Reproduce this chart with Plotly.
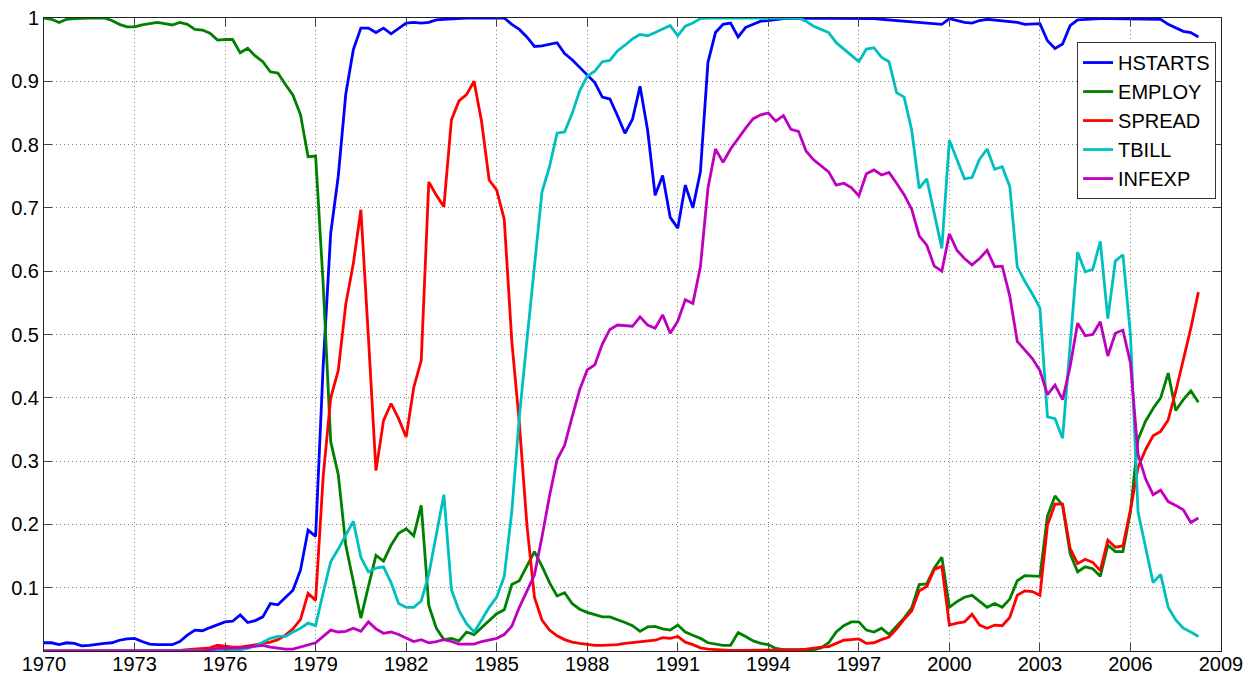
import plotly.graph_objects as go

# quarterly observations, 1970Q1 .. 2008Q2
start_year = 1970
n_quarters = 154
dates = [start_year + i / 4 for i in range(n_quarters)]

hstarts = [
    .013, .013, .010, .013,  .012, .008, .009, .011,  .012, .013, .017, .019,
    .020, .015, .011, .010,  .010, .010, .015, .025,  .033, .032, .037, .042,
    .046, .047, .057, .045,  .048, .054, .075, .073,  .085, .096, .128, .191,
    .181, .450, .660, .750,  .880, .950, .984, .984,  .977, .984, .975, .984,
    .992, .993, .992, .993,  .997, .998, .999, 1.00,  1.00, 1.00, 1.00, 1.00,
    .999, 1.00, .990, .982,  .970, .955, .956, .958,  .961, .944, .934, .922,
    .910, .898, .875, .872,  .846, .818, .840, .892,  .823, .720, .751, .685,
    .668, .736, .700, .757,  .930, .977, .990, .992,  .970, .985, .990, .995,
    .996, .998, .999, 1.00,  1.00, 1.00, 1.00, 1.00,  1.00, 1.00, 1.00, 1.00,
    1.00, 1.00, .999, .998,  .997, .996, .995, .994,  .993, .992, .990, .990,
    .999, .996, .993, .992,  .996, .998, .997, .996,  .995, .993, .990, .991,
    .991, .964, .952, .959,  .988, .997, .998, .998,  .999, .999, .999, .999,
    .999, .999, .999, .999,  .998, .990, .984, .979,  .977, .970,
]

employ = [
    1.00, .998, .993, .998,  .999, 1.00, 1.00, 1.00,  1.00, .996, .990, .986,
    .986, .989, .991, .993,  .991, .989, .993, .990,  .982, .981, .976, .965,
    .966, .966, .945, .952,  .940, .931, .915, .913,  .895, .878, .847, .781,
    .782, .580, .331, .279,  .167, .108, .052, .102,  .151, .142, .167, .186,
    .193, .182, .230, .072,  .036, .018, .020, .016,  .030, .026, .037, .049,
    .059, .065, .105, .111,  .134, .157, .134, .108,  .087, .092, .075, .066,
    .061, .057, .054, .054,  .050, .045, .040, .031,  .038, .039, .035, .033,
    .041, .030, .025, .020,  .013, .011, .009, .009,  .029, .023, .016, .012,
    .010, .004, .002, .002,  .002, .002, .002, .005,  .013, .030, .040, .046,
    .046, .033, .030, .036,  .026, .039, .052, .068,  .105, .106, .131, .148,
    .069, .078, .085, .088,  .078, .069, .075, .069,  .082, .111, .119, .118,
    .118, .213, .245, .230,  .154, .125, .133, .130,  .118, .167, .157, .157,
    .220, .334, .363, .383,  .400, .439, .380, .397,  .411, .393,
]

spread = [
    0.0, 0.0, 0.0, 0.0,  0.0, 0.0, 0.0, 0.0,  0.0, 0.0, 0.0, 0.0,
    0.0, 0.0, 0.0, 0.0,  0.0, 0.0, .001, .002,  .003, .004, .005, .009,
    .007, .006, .006, .008,  .009, .011, .014, .018,  .025, .035, .050, .091,
    .080, .275, .400, .443,  .548, .612, .697, .495,  .285, .364, .391, .367,
    .338, .416, .459, .741,  .720, .702, .839, .869,  .879, .900, .836, .744,
    .728, .682, .490, .360,  .200, .085, .049, .033,  .024, .018, .014, .012,
    .010, .009, .009, .009,  .010, .012, .013, .014,  .015, .017, .021, .020,
    .023, .014, .010, .005,  .003, .002, .001, .001,  .001, .001, .001, .001,
    .001, .001, .001, .001,  .002, .003, .005, .006,  .007, .012, .017, .018,
    .019, .012, .013, .018,  .022, .035, .050, .063,  .095, .102, .129, .134,
    .041, .044, .046, .058,  .041, .036, .041, .040,  .053, .088, .095, .094,
    .088, .199, .232, .232,  .162, .138, .145, .140,  .127, .175, .164, .166,
    .223, .290, .318, .340,  .347, .365, .410, .460,  .510, .567,
]

tbill = [
    0.0, 0.0, 0.0, 0.0,  0.0, 0.0, 0.0, 0.0,  0.0, 0.0, 0.0, 0.0,
    0.0, 0.0, 0.0, 0.0,  0.0, 0.0, 0.0, 0.0,  0.0, 0.0, .001, .001,
    .001, .002, .002, .004,  .008, .014, .020, .023,  .023, .030, .036, .044,
    .040, .092, .141, .161,  .182, .205, .148, .125,  .131, .133, .108, .075,
    .069, .069, .079, .121,  .184, .247, .097, .064,  .043, .030, .049, .069,
    .085, .118, .220, .370,  .490, .610, .725, .765,  .818, .820, .849, .885,
    .908, .916, .931, .933,  .948, .957, .967, .974,  .972, .977, .982, .988,
    .972, .987, .992, .999,  1.00, 1.00, 1.00, 1.00,  1.00, 1.00, 1.00, 1.00,
    1.00, 1.00, 1.00, 1.00,  1.00, .995, .987, .982,  .977, .961, .951, .941,
    .931, .951, .953, .938,  .931, .882, .875, .823,  .731, .746, .692, .636,
    .807, .777, .746, .748,  .777, .793, .761, .765,  .734, .607, .584, .564,
    .542, .370, .367, .336,  .489, .630, .599, .603,  .647, .525, .616, .626,
    .500, .220, .164, .108,  .121, .069, .049, .036,  .030, .023,
]

infexp = [
    0.0, 0.0, 0.0, 0.0,  0.0, 0.0, 0.0, 0.0,  0.0, 0.0, 0.0, 0.0,
    0.0, 0.0, 0.0, 0.0,  0.0, 0.0, 0.0, 0.0,  0.0, 0.0, .002, .004,
    .004, .004, .005, .006,  .007, .009, .006, .004,  .003, .003, .006, .009,
    .013, .023, .033, .030,  .031, .036, .031, .046,  .035, .028, .030, .026,
    .020, .015, .018, .013,  .015, .018, .015, .011,  .011, .011, .015, .018,
    .020, .026, .039, .069,  .095, .120, .180, .245,  .302, .325, .370, .413,
    .444, .452, .485, .508,  .515, .514, .513, .528,  .515, .510, .531, .502,
    .521, .555, .549, .607,  .731, .793, .772, .793,  .810, .826, .841, .847,
    .850, .837, .846, .824,  .821, .790, .776, .767,  .757, .736, .739, .732,
    .719, .754, .760, .752,  .756, .739, .721, .698,  .656, .641, .608, .600,
    .659, .633, .620, .610,  .620, .633, .607, .608,  .561, .489, .475, .462,
    .443, .405, .420, .397,  .449, .518, .498, .500,  .520, .466, .502, .507,
    .455, .311, .272, .247,  .254, .236, .230, .223,  .203, .210,
]

series_names = ["HSTARTS", "EMPLOY", "SPREAD", "TBILL", "INFEXP"]
series_values = [hstarts, employ, spread, tbill, infexp]
series_colors = ["#0000FF", "#008000", "#FF0000", "#00BFBF", "#BF00BF"]

x_ticks = list(range(1970, 2010, 3))
y_ticks = [0.1, 0.2, 0.3, 0.4, 0.5, 0.6, 0.7, 0.8, 0.9, 1.0]
y_tick_labels = ["0.1", "0.2", "0.3", "0.4", "0.5", "0.6", "0.7", "0.8", "0.9", "1"]

fig = go.Figure()
for name, vals, col in zip(series_names, series_values, series_colors):
    fig.add_trace(go.Scatter(x=dates, y=vals, name=name, mode="lines",
                             line=dict(color=col, width=2.8)))

font_family = "Liberation Sans, Arial, Helvetica, sans-serif"
axis_common = dict(
    showline=True, linecolor="#222222", linewidth=1, mirror="ticks",
    ticks="inside", ticklen=8, tickcolor="#444444", tickwidth=1,
    showgrid=True, gridcolor="#808080", griddash="1px,3px", gridwidth=1,
    zeroline=False, automargin=False, ticklabeloverflow="allow",
    tickfont=dict(family=font_family, size=20, color="black"),
)

# the page body adds an 8px offset, so the figure is 8px smaller than the window
fig.update_layout(
    width=1251, height=670,
    margin=dict(l=36, r=38, t=10, b=27, autoexpand=False),
    paper_bgcolor="white", plot_bgcolor="white",
    font=dict(family=font_family, size=20, color="black"),
    showlegend=True,
    legend=dict(x=0.9958, y=0.962, xanchor="right", yanchor="top",
                bgcolor="white", bordercolor="#333333", borderwidth=1,
                font=dict(family=font_family, size=20, color="black"),
                tracegroupgap=0, itemwidth=30),
    xaxis=dict(range=[1970, 2009], tickvals=x_ticks, ticklabelstandoff=-5,
               ticktext=[str(v) for v in x_ticks], **axis_common),
    yaxis=dict(range=[0, 1], tickvals=y_ticks, ticktext=y_tick_labels,
               **axis_common),
)

fig.write_html("out.html")
